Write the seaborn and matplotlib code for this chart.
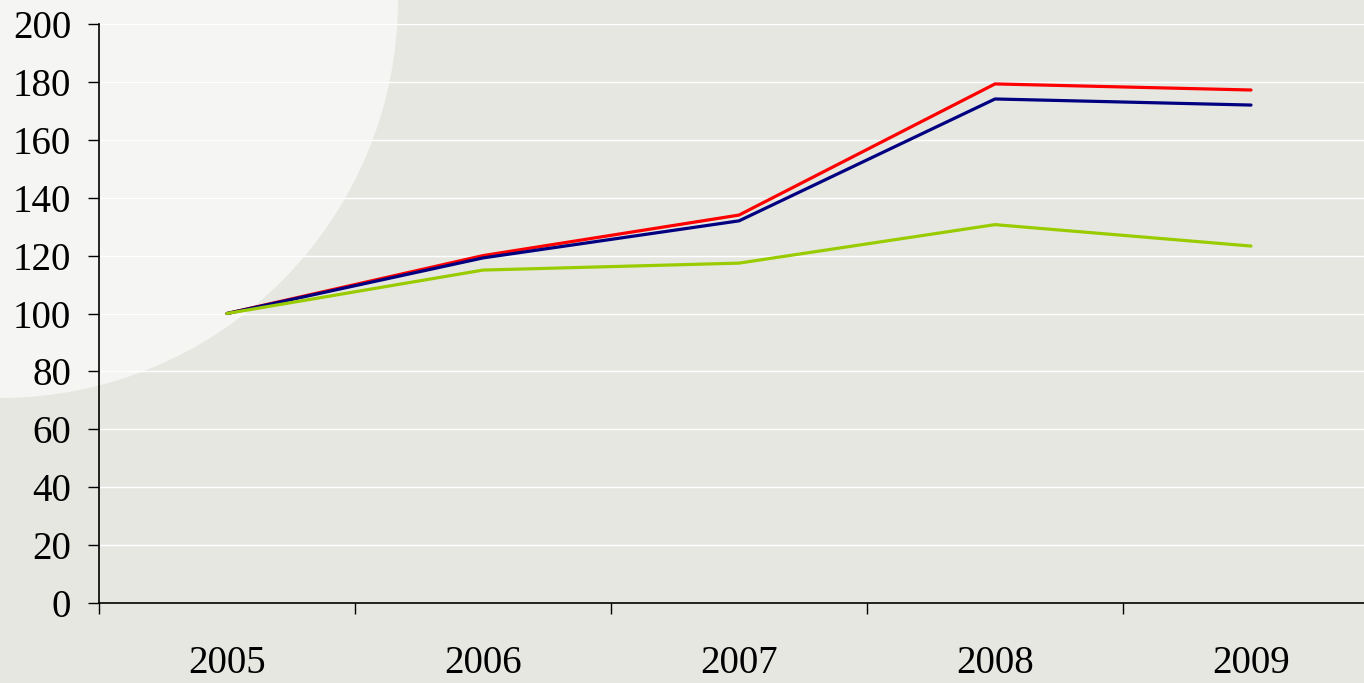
import pandas as pd
import seaborn as sns
import matplotlib.pyplot as plt
from matplotlib.patches import Circle
from matplotlib.ticker import FixedLocator

# data (index, 2005 = 100)
years = ['2005', '2006', '2007', '2008', '2009']
series_red = [100, 120, 134, 179.3, 177.2]
series_blue = [100, 119.2, 132, 174.1, 172]
series_green = [100, 115, 117.4, 130.7, 123.3]
series_names = ['red', 'blue', 'green']
colors = ['#FF0000', '#000080', '#99CC00']

rows = []
for name, vals in zip(series_names, [series_red, series_blue, series_green]):
    for i, v in enumerate(vals):
        rows.append({'pos': i, 'year': years[i], 'value': v, 'series': name})
df = pd.DataFrame(rows)

sns.set_style('white')
plt.rcParams['font.family'] = ['Liberation Serif', 'DejaVu Serif']

fig = plt.figure(figsize=(13.64, 6.83), dpi=100)
fig.patch.set_facecolor('#E7E7E2')

# light blob in the top-left corner of the backdrop
blob = Circle((0, 683), 398, transform=None, facecolor='#F5F5F3', edgecolor='none', zorder=-5)
fig.patches.append(blob)

ax = fig.add_axes([99 / 1364, 80 / 683, 1280 / 1364, 579 / 683])
ax.set_facecolor('none')

sns.lineplot(data=df, x='pos', y='value', hue='series', palette=colors,
             hue_order=series_names, linewidth=2.3, legend=False, ax=ax, zorder=3)

ax.set_xlim(-0.5, 4.5)
ax.set_ylim(0, 200)
ax.set_yticks(range(0, 201, 20))
ax.yaxis.grid(True, color='white', linewidth=1)
ax.set_axisbelow(True)

ax.set_xticks(range(len(years)))
ax.set_xticklabels(years)
ax.xaxis.set_minor_locator(FixedLocator([-0.5, 0.5, 1.5, 2.5, 3.5, 4.5]))
ax.tick_params(axis='x', which='major', bottom=True, length=0, pad=30, labelsize=28)
ax.tick_params(axis='x', which='minor', bottom=True, length=8, width=1, direction='out', color='black')
ax.tick_params(axis='y', left=True, length=8, width=1, direction='out', color='black', pad=12, labelsize=28)
ax.tick_params(axis='both', labelcolor='black')

for side in ['top', 'right']:
    ax.spines[side].set_visible(False)
for side in ['left', 'bottom']:
    ax.spines[side].set_color('black')
    ax.spines[side].set_linewidth(1.2)

ax.set_xlabel('')
ax.set_ylabel('')

fig.savefig('out.png', dpi=100, facecolor=fig.get_facecolor())
